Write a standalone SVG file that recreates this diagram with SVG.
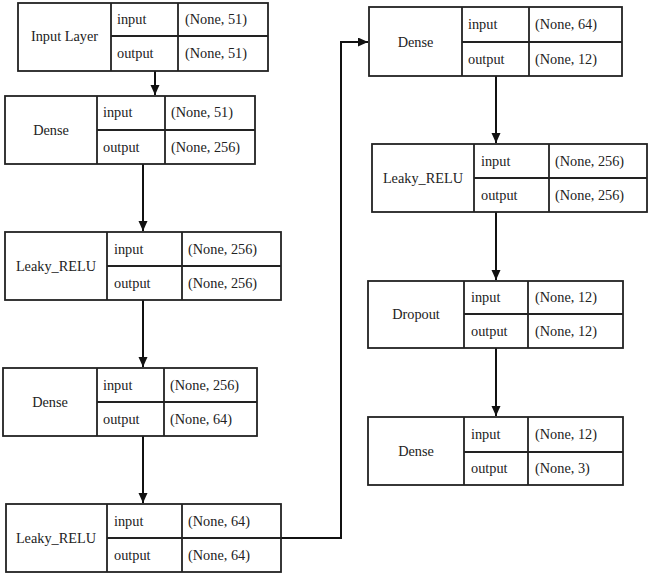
<svg xmlns="http://www.w3.org/2000/svg" width="649" height="574" viewBox="0 0 649 574">
<style>
.box{fill:#fff;stroke:#222;stroke-width:1.8}
.ln{stroke:#222;stroke-width:1.8;fill:none}
text{font-family:'Liberation Serif','DejaVu Serif',serif;font-size:14.3px;fill:#222}
.c{text-anchor:middle}
.e{stroke:#111;stroke-width:2;fill:none}
</style>
<defs>
<marker id="ah" markerUnits="userSpaceOnUse" markerWidth="11" markerHeight="10" refX="10" refY="4.5" orient="auto">
<path d="M0,0 L10,4.5 L0,9 z" fill="#111"/>
</marker>
</defs>
<g id="edges">
<line class="e" x1="155" y1="71" x2="155" y2="95" marker-end="url(#ah)"/>
<line class="e" x1="143" y1="164" x2="143" y2="231" marker-end="url(#ah)"/>
<line class="e" x1="143" y1="300" x2="143" y2="367" marker-end="url(#ah)"/>
<line class="e" x1="143" y1="436" x2="143" y2="503" marker-end="url(#ah)"/>
<path class="e" d="M281,538 L341,538 L341,42 L368,42" marker-end="url(#ah)"/>
<line class="e" x1="496" y1="76" x2="496" y2="143" marker-end="url(#ah)"/>
<line class="e" x1="496" y1="212" x2="496" y2="280" marker-end="url(#ah)"/>
<line class="e" x1="496" y1="348" x2="496" y2="416" marker-end="url(#ah)"/>
</g>
<g id="n1">
<rect class="box" x="18" y="3" width="250" height="68"/>
<path class="ln" d="M111,3 V71 M178,3 V71 M111,36 H268"/>
<text class="c" x="64.5" y="41">Input Layer</text>
<text x="117" y="24">input</text><text x="185" y="24">(None, 51)</text>
<text x="117" y="58">output</text><text x="185" y="58">(None, 51)</text>
</g>
<g id="n2">
<rect class="box" x="5" y="96" width="250" height="68"/>
<path class="ln" d="M97,96 V164 M165,96 V164 M97,130 H255"/>
<text class="c" x="51" y="135">Dense</text>
<text x="103" y="117">input</text><text x="171" y="117">(None, 51)</text>
<text x="103" y="152">output</text><text x="171" y="152">(None, 256)</text>
</g>
<g id="n3">
<rect class="box" x="5" y="232" width="276" height="68"/>
<path class="ln" d="M107,232 V300 M182,232 V300 M107,266 H281"/>
<text class="c" x="56" y="271">Leaky_RELU</text>
<text x="114" y="254">input</text><text x="188" y="254">(None, 256)</text>
<text x="114" y="288">output</text><text x="188" y="288">(None, 256)</text>
</g>
<g id="n4">
<rect class="box" x="3" y="368" width="254" height="68"/>
<path class="ln" d="M97,368 V436 M164,368 V436 M97,402 H257"/>
<text class="c" x="50" y="407">Dense</text>
<text x="103" y="390">input</text><text x="170" y="390">(None, 256)</text>
<text x="103" y="424">output</text><text x="170" y="424">(None, 64)</text>
</g>
<g id="n5">
<rect class="box" x="6" y="504" width="275" height="68"/>
<path class="ln" d="M107,504 V572 M182,504 V572 M107,538 H281"/>
<text class="c" x="56" y="543">Leaky_RELU</text>
<text x="114" y="526">input</text><text x="188" y="526">(None, 64)</text>
<text x="114" y="560">output</text><text x="188" y="560">(None, 64)</text>
</g>
<g id="n6">
<rect class="box" x="369" y="7" width="253" height="69"/>
<path class="ln" d="M462,7 V76 M529,7 V76 M462,42 H622"/>
<text class="c" x="415.5" y="47">Dense</text>
<text x="468" y="29">input</text><text x="535" y="29">(None, 64)</text>
<text x="468" y="64">output</text><text x="535" y="64">(None, 12)</text>
</g>
<g id="n7">
<rect class="box" x="372" y="144" width="275" height="68"/>
<path class="ln" d="M474,144 V212 M549,144 V212 M474,178 H647"/>
<text class="c" x="423" y="183">Leaky_RELU</text>
<text x="481" y="166">input</text><text x="555" y="166">(None, 256)</text>
<text x="481" y="200">output</text><text x="555" y="200">(None, 256)</text>
</g>
<g id="n8">
<rect class="box" x="368" y="281" width="255" height="67"/>
<path class="ln" d="M464,281 V348 M528,281 V348 M464,314 H623"/>
<text class="c" x="416" y="319">Dropout</text>
<text x="471" y="302">input</text><text x="535" y="302">(None, 12)</text>
<text x="471" y="336">output</text><text x="535" y="336">(None, 12)</text>
</g>
<g id="n9">
<rect class="box" x="368" y="417" width="255" height="68"/>
<path class="ln" d="M464,417 V485 M528,417 V485 M464,452 H623"/>
<text class="c" x="416" y="456">Dense</text>
<text x="471" y="439">input</text><text x="535" y="439">(None, 12)</text>
<text x="471" y="473">output</text><text x="535" y="473">(None, 3)</text>
</g>
</svg>
